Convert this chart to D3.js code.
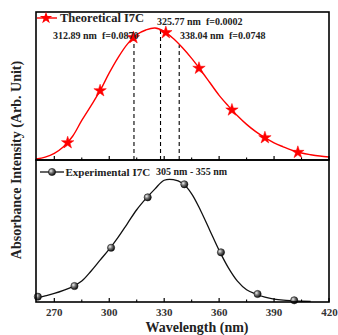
<!DOCTYPE html>
<html><head><meta charset="utf-8">
<script src="https://cdn.jsdelivr.net/npm/d3@7"></script>
<style>body{margin:0;background:#fff}svg{display:block}</style>
</head><body>
<script>
// ---- data ----
const theoWl = [260,265,270,275,280,285,290,295,300,305,310,315,320,325,330,335,340,345,350,355,360,365,370,375,380,385,390,395,400,405,410,415,420];
const theoVal = [0.008,0.022,0.05,0.10,0.18,0.30,0.41,0.525,0.66,0.78,0.88,0.95,0.985,1.0,0.975,0.92,0.85,0.77,0.68,0.585,0.49,0.41,0.335,0.27,0.215,0.169,0.13,0.10,0.073,0.053,0.04,0.03,0.023];
const theoMarkWl = [277.3,295,313.2,330.9,349,367,385,403];
const theoMarkVal = [0.131,0.525,0.927,0.965,0.695,0.379,0.169,0.058];
const expWl = [260,265,270,275,280,285,290,295,300,305,310,315,320,325,330,335,340,345,350,355,360,365,370,375,380,385,390,395,400,405,410];
const expVal = [0.03,0.05,0.07,0.095,0.125,0.17,0.25,0.34,0.43,0.53,0.64,0.75,0.84,0.92,0.99,0.995,0.965,0.88,0.74,0.58,0.42,0.28,0.17,0.10,0.065,0.04,0.024,0.015,0.01,0.006,0.005];
const expMarkWl = [261,281,301,321,341,361,381,401];
const expMarkVal = [0.043,0.13,0.441,0.851,0.957,0.404,0.065,0.014];
const dashWl = [313.5,328,338.2];
const dashTop = [0.93,0.99,0.87];
const xTicks = [270,300,330,360,390,420];
const xMinor = [285,315,345,375,405];
const annotations = ["312.89 nm  f=0.0870","325.77 nm  f=0.0002","338.04 nm  f=0.0748"];

// ---- layout ----
const W=338,H=335, L=36, R=329, T=12, M=160, B=302;
const svg=d3.select("body").append("svg").attr("width",W).attr("height",H);
const defs=svg.append("defs");
const g=defs.append("radialGradient").attr("id","ball").attr("cx","35%").attr("cy","35%").attr("r","65%");
g.append("stop").attr("offset","0%").attr("stop-color","#f0f0f0");
g.append("stop").attr("offset","45%").attr("stop-color","#777");
g.append("stop").attr("offset","100%").attr("stop-color","#111");

const x=d3.scaleLinear().domain([260,420]).range([L,R]);
const yT=d3.scaleLinear().domain([0,1]).range([M,M-132]);
const yB=d3.scaleLinear().domain([0,1]).range([B,B-123]);
const font="'Liberation Serif','Times New Roman',serif";

// top curve
const lineT=d3.line().x((d,i)=>x(theoWl[i])).y(d=>yT(d)).curve(d3.curveCatmullRom);
svg.append("path").attr("d",lineT(theoVal)).attr("fill","none").attr("stroke","#ff0000").attr("stroke-width",1.4);
// dashed lines
svg.selectAll(".dash").data(dashWl).join("line")
 .attr("x1",d=>x(d)).attr("x2",d=>x(d)).attr("y1",M).attr("y2",(d,i)=>yT(dashTop[i]))
 .attr("stroke","#000").attr("stroke-width",1.1).attr("stroke-dasharray","4,3");
const star=d3.symbol().type(d3.symbolStar).size(48);
svg.selectAll(".star").data(theoMarkWl).join("path")
 .attr("d",star).attr("transform",(d,i)=>`translate(${x(d)},${yT(theoMarkVal[i])})`)
 .attr("fill","#ff0000").attr("stroke","#ff0000").attr("stroke-width",0.5);

// bottom curve
const lineB=d3.line().x((d,i)=>x(expWl[i])).y(d=>yB(d)).curve(d3.curveCatmullRom);
svg.append("path").attr("d",lineB(expVal)).attr("fill","none").attr("stroke","#111").attr("stroke-width",1.3);
svg.selectAll(".ball").data(expMarkWl).join("circle")
 .attr("cx",d=>x(d)).attr("cy",(d,i)=>yB(expMarkVal[i])).attr("r",3.6)
 .attr("fill","url(#ball)").attr("stroke","#111").attr("stroke-width",0.6);

// frames
svg.append("rect").attr("x",L).attr("y",T).attr("width",R-L).attr("height",M-T).attr("fill","none").attr("stroke","#000").attr("stroke-width",1.6);
svg.append("rect").attr("x",L).attr("y",M).attr("width",R-L).attr("height",B-M).attr("fill","none").attr("stroke","#000").attr("stroke-width",1.6);

// ticks (inward)
function ticks(y0){
  svg.append("g").selectAll("line").data(xTicks).join("line")
    .attr("x1",d=>x(d)).attr("x2",d=>x(d)).attr("y1",y0).attr("y2",y0-4).attr("stroke","#000").attr("stroke-width",1.2);
  svg.append("g").selectAll("line").data(xMinor).join("line")
    .attr("x1",d=>x(d)).attr("x2",d=>x(d)).attr("y1",y0).attr("y2",y0-2.5).attr("stroke","#000").attr("stroke-width",1.1);
}
ticks(M); ticks(B);
svg.append("g").selectAll("text").data(xTicks).join("text")
 .attr("x",d=>x(d)+(d===420?0.5:0)).attr("y",315.5).attr("text-anchor","middle")
 .attr("font-family",font).attr("font-weight","bold").attr("font-size",11).attr("fill","#333").text(d=>d);

// legends
svg.append("line").attr("x1",37).attr("x2",57).attr("y1",18).attr("y2",18).attr("stroke","#ff0000").attr("stroke-width",1.4);
svg.append("path").attr("d",star).attr("transform","translate(46,18)").attr("fill","#ff0000");
svg.append("text").attr("x",60).attr("y",22).attr("font-family",font).attr("font-weight","bold").attr("font-size",12.5).attr("fill","#222").text("Theoretical I7C");
svg.append("line").attr("x1",40).attr("x2",64).attr("y1",172).attr("y2",172).attr("stroke","#111").attr("stroke-width",1.3);
svg.append("circle").attr("cx",52).attr("cy",172).attr("r",3.6).attr("fill","url(#ball)").attr("stroke","#111").attr("stroke-width",0.6);
svg.append("text").attr("x",65.5).attr("y",175.5).attr("font-family",font).attr("font-weight","bold").attr("font-size",11).attr("fill","#222").text("Experimental I7C");
svg.append("text").attr("x",156).attr("y",175).attr("font-family",font).attr("font-weight","bold").attr("font-size",10).attr("fill","#222").text("305 nm - 355 nm");

// annotations
const annX=[53,157,180], annY=[38.5,25,38.5];
svg.selectAll(".ann").data(annotations).join("text")
 .attr("x",(d,i)=>annX[i]).attr("y",(d,i)=>annY[i]).attr("font-family",font).attr("font-weight","bold").attr("font-size",10).attr("fill","#222")
 .attr("xml:space","preserve").style("white-space","pre").text(d=>d);

// axis titles
svg.append("text").attr("transform","translate(21,160) rotate(-90)").attr("text-anchor","middle")
 .attr("font-family",font).attr("font-weight","bold").attr("font-size",14).attr("fill","#222").text("Absorbance Intensity (Arb. Unit)");
svg.append("text").attr("x",197).attr("y",331.5).attr("text-anchor","middle")
 .attr("font-family",font).attr("font-weight","bold").attr("font-size",14).attr("fill","#222").text("Wavelength (nm)");
</script>
</body></html>
